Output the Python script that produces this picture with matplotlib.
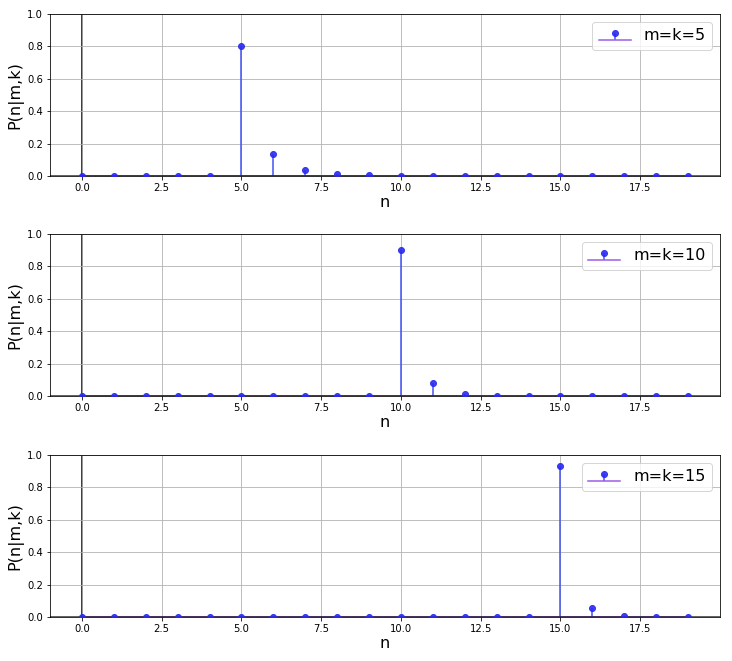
import numpy as np
import matplotlib.pyplot as plt

n = np.arange(20)

p_m5 = [0, 0, 0, 0, 0, 0.80, 0.135, 0.035, 0.015, 0.006, 0.003, 0.0015, 0.0008, 0.0005,
        0.0003, 0.0002, 0.0001, 0.0001, 0.00005, 0.00003]
p_m10 = [0, 0, 0, 0, 0, 0, 0, 0, 0, 0, 0.90, 0.083, 0.012, 0.003, 0.001, 0.0004,
         0.0002, 0.0001, 0.00005, 0.00003]
p_m15 = [0, 0, 0, 0, 0, 0, 0, 0, 0, 0, 0, 0, 0, 0, 0, 0.933, 0.058, 0.007, 0.0015, 0.0004]

series = [(p_m5, 'm=k=5'), (p_m10, 'm=k=10'), (p_m15, 'm=k=15')]

fig = plt.figure(figsize=(732/72, 661/72), dpi=72)
fig.patch.set_facecolor('white')

tops = [14, 234, 455]
for (vals, lab), top in zip(series, tops):
    ax = fig.add_axes([50/732, 1 - (top + 162)/661, 670/732, 162/661])
    ax.grid(True, color='#b0b0b0', linewidth=0.8, zorder=0)
    ax.axvline(0, color='k', linewidth=1.5, zorder=1)
    markers, stems, base = ax.stem(n, vals, label=lab)
    plt.setp(markers, color='#2a2af0', alpha=0.9, markersize=6, zorder=3)
    plt.setp(stems, color='#4050ee', linewidth=1.5, zorder=2)
    plt.setp(base, color='#9b59e8', linewidth=1.5, zorder=2)
    ax.axhline(0, color='k', linewidth=1.5, alpha=0.8, zorder=2.5)
    ax.set_xlim(-1, 20)
    ax.set_ylim(0, 1)
    ax.set_xticks(np.arange(0, 20, 2.5))
    ax.set_yticks(np.arange(0, 1.01, 0.2))
    ax.tick_params(labelsize=10)
    ax.set_xlabel('n', fontsize=16, labelpad=2)
    ax.set_ylabel('P(n|m,k)', fontsize=16)
    ax.legend(fontsize=16, loc='upper right')

fig.savefig('out.png', dpi=72)
